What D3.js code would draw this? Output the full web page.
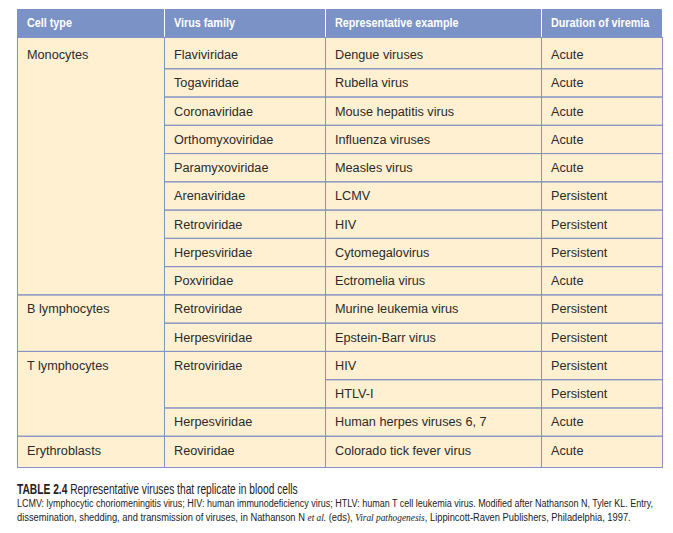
<!doctype html>
<html lang="en">
<head>
<meta charset="utf-8">
<title>Table 2.4</title>
<style>
  body { margin: 0; background: #fff; }
  svg text { font-family: "Liberation Sans Narrow", "Liberation Sans", Arial, sans-serif; }
</style>
</head>
<body>
<svg id="chart"></svg>
<script src="https://d3js.org/d3.v7.min.js"></script>
<script>
// table content
var headers = ["Cell type", "Virus family", "Representative example", "Duration of viremia"];

// [label, first row, number of rows]
var cellTypes = [
  ["Monocytes", 0, 9],
  ["B lymphocytes", 9, 2],
  ["T lymphocytes", 11, 3],
  ["Erythroblasts", 14, 1]
];

var virusFamilies = [
  ["Flaviviridae", 0, 1], ["Togaviridae", 1, 1], ["Coronaviridae", 2, 1],
  ["Orthomyxoviridae", 3, 1], ["Paramyxoviridae", 4, 1], ["Arenaviridae", 5, 1],
  ["Retroviridae", 6, 1], ["Herpesviridae", 7, 1], ["Poxviridae", 8, 1],
  ["Retroviridae", 9, 1], ["Herpesviridae", 10, 1],
  ["Retroviridae", 11, 2], ["Herpesviridae", 13, 1],
  ["Reoviridae", 14, 1]
];

var examples = [
  "Dengue viruses", "Rubella virus", "Mouse hepatitis virus", "Influenza viruses",
  "Measles virus", "LCMV", "HIV", "Cytomegalovirus", "Ectromelia virus",
  "Murine leukemia virus", "Epstein-Barr virus", "HIV", "HTLV-I",
  "Human herpes viruses 6, 7", "Colorado tick fever virus"
];

var durations = [
  "Acute", "Acute", "Acute", "Acute", "Acute", "Persistent", "Persistent",
  "Persistent", "Acute", "Persistent", "Persistent", "Persistent", "Persistent",
  "Acute", "Acute"
];

var captionTitle = "TABLE 2.4";
var captionText = " Representative viruses that replicate in blood cells";
var noteLine1 = "LCMV: lymphocytic choriomeningitis virus; HIV: human immunodeficiency virus; HTLV: human T cell leukemia virus. Modified after Nathanson N, Tyler KL. Entry,";
// [text, italic?]
var noteLine2 = [
  ["dissemination, shedding, and transmission of viruses, in Nathanson N ", false],
  ["et al.", true],
  [" (eds), ", false],
  ["Viral pathogenesis", true],
  [", Lippincott-Raven Publishers, Philadelphia, 1997.", false]
];

var width = 673, height = 533;
var headFill = "#7b92c6", bodyFill = "#fef0d1", lineColor = "#8592c4", textColor = "#2b2b2b";

var svg = d3.select("#chart").attr("width", width).attr("height", height);
svg.append("rect").attr("width", width).attr("height", height).attr("fill", "#fff");

var nRows = examples.length;
var colEdges = [17, 164, 325, 541, 662];
var headTop = 9, headBottom = 37, tableBottom = 467, pad = 3;

var y = d3.scaleLinear().domain([0, nRows]).range([headBottom + pad, tableBottom - pad]);
function rowTop(i) { return i === 0 ? headBottom : y(i); }
function rowBottom(i) { return i === nRows ? tableBottom : y(i); }

// squeeze text horizontally (the original face is a condensed gothic)
function squeeze(sel, x, yy, k) {
  sel.attr("x", 0).attr("y", 0)
    .attr("transform", "translate(" + x + "," + yy + ") scale(" + k + ",1)");
}
function fitTo(sel, x, yy, target) {
  var w = sel.node().getComputedTextLength();
  squeeze(sel, x, yy, target / w);
}

// body background
svg.append("rect")
  .attr("x", colEdges[0]).attr("y", headBottom)
  .attr("width", colEdges[4] - colEdges[0]).attr("height", tableBottom - headBottom)
  .attr("fill", bodyFill);

// header
svg.append("rect")
  .attr("x", colEdges[0]).attr("y", headTop)
  .attr("width", colEdges[4] - colEdges[0]).attr("height", headBottom - headTop)
  .attr("fill", headFill);

svg.selectAll(".hsep").data(colEdges.slice(1, 4)).enter().append("line")
  .attr("x1", function(d) { return d + 0.5; }).attr("x2", function(d) { return d + 0.5; })
  .attr("y1", headTop).attr("y2", headBottom)
  .attr("stroke", "#fff").attr("stroke-width", 1);

svg.selectAll(".htext").data(headers).enter().append("text")
  .attr("fill", "#fff").attr("font-weight", "bold").attr("font-size", 13)
  .text(function(d) { return d; })
  .each(function(d, i) { squeeze(d3.select(this), colEdges[i] + 10, 27, 0.83); });

// body cells: column index, label, start row, span
var cells = [];
cellTypes.forEach(function(c) { cells.push({ col: 0, text: c[0], r: c[1], n: c[2] }); });
virusFamilies.forEach(function(c) { cells.push({ col: 1, text: c[0], r: c[1], n: c[2] }); });
examples.forEach(function(t, i) { cells.push({ col: 2, text: t, r: i, n: 1 }); });
durations.forEach(function(t, i) { cells.push({ col: 3, text: t, r: i, n: 1 }); });

var cell = svg.selectAll(".cell").data(cells).enter().append("g").attr("class", "cell");

cell.append("rect")
  .attr("x", function(d) { return colEdges[d.col] + 0.5; })
  .attr("y", function(d) { return rowTop(d.r) + 0.5; })
  .attr("width", function(d) { return colEdges[d.col + 1] - colEdges[d.col]; })
  .attr("height", function(d) { return rowBottom(d.r + d.n) - rowTop(d.r); })
  .attr("fill", "none").attr("stroke", lineColor).attr("stroke-width", 1);

cell.append("text")
  .attr("fill", textColor).attr("font-size", 13.5)
  .text(function(d) { return d.text; })
  .each(function(d) { squeeze(d3.select(this), colEdges[d.col] + 10, y(d.r) + 19, 0.94); });

// caption
var cap = svg.append("text").attr("font-size", 14).attr("fill", "#222");
cap.append("tspan").attr("font-weight", "bold").text(captionTitle);
cap.append("tspan").text(captionText);
fitTo(cap, 17, 494, 281);

var l2 = svg.append("text").attr("font-size", 11).attr("fill", "#222").text(noteLine1);
fitTo(l2, 17, 507, 637);

var l3 = svg.append("text").attr("font-size", 11).attr("fill", "#222");
l3.selectAll("tspan").data(noteLine2).enter().append("tspan")
  .attr("font-family", function(d) { return d[1] ? "Liberation Serif, serif" : null; })
  .attr("font-style", function(d) { return d[1] ? "italic" : null; })
  .text(function(d) { return d[0]; });
fitTo(l3, 17, 521, 615);
</script>
</body>
</html>
